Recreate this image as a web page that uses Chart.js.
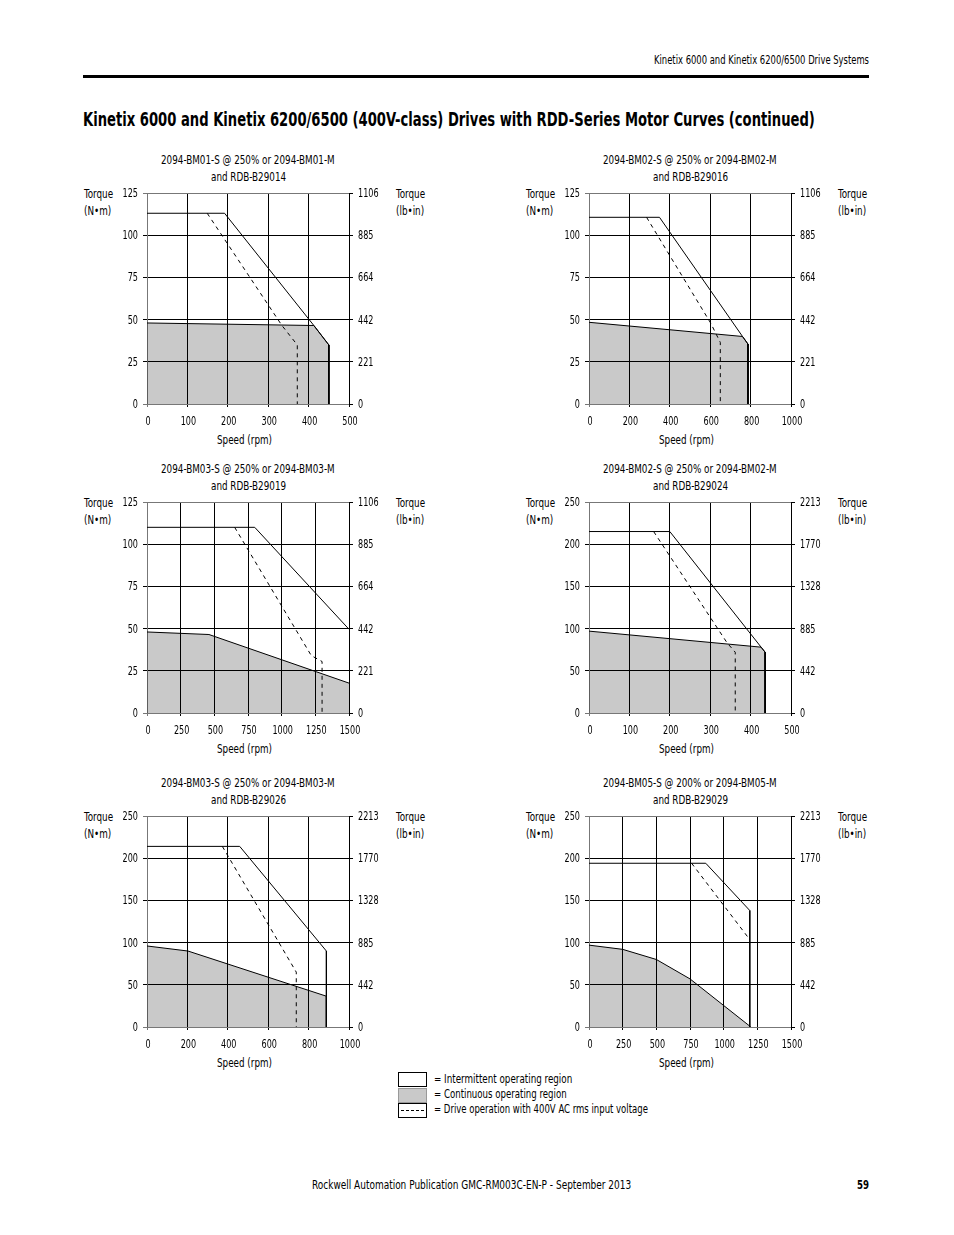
<!DOCTYPE html>
<html>
<head>
<meta charset="utf-8">
<title>Kinetix 6000 and Kinetix 6200/6500 (400V-class) Drives with RDD-Series Motor Curves</title>
<script src="https://cdn.jsdelivr.net/npm/chart.js@4.4.0/dist/chart.umd.min.js"></script>
<style>
  html, body { margin: 0; padding: 0; background: #fff; }
  body {
    width: 954px; height: 1235px; position: relative; overflow: hidden;
    font-family: "Liberation Sans Narrow", "DejaVu Sans Condensed", sans-serif;
    color: #000;
  }
  .txt { position: absolute; white-space: nowrap; line-height: 1; }
  canvas { position: absolute; }
  .box { position: absolute; left: 398px; width: 27px; height: 13px; border: 1px solid #000; background: #fff; }
</style>
</head>
<body>
<div id="rule" style="position:absolute;left:83px;top:75px;width:786px;height:3px;background:#000"></div>
<div class="box" style="top:1072px"></div>
<div class="box" style="top:1088px;background:#c9c9c9;border-color:#999"></div>
<div class="box" style="top:1103px"><div style="position:absolute;left:2px;right:2px;top:6px;border-top:1px dashed #000"></div></div>

<script>
// Font used for all the texts
const FONT = '"Liberation Sans Narrow", "DejaVu Sans Condensed", sans-serif';
const SQUEEZE = 0.85;       // horizontal squeeze for the small html texts
const TICK_SQUEEZE = 0.78;  // horizontal squeeze for the tick labels

// Chart titles (two lines)
const titleLine1 = [
  '2094-BM01-S @ 250% or 2094-BM01-M',
  '2094-BM02-S @ 250% or 2094-BM02-M',
  '2094-BM03-S @ 250% or 2094-BM03-M',
  '2094-BM02-S @ 250% or 2094-BM02-M',
  '2094-BM03-S @ 250% or 2094-BM03-M',
  '2094-BM05-S @ 200% or 2094-BM05-M'
];
const motorNames = ['RDB-B29014', 'RDB-B29016', 'RDB-B29019', 'RDB-B29024', 'RDB-B29026', 'RDB-B29029'];

// Tick labels
const speedTicks500 = ['0', '100', '200', '300', '400', '500'];
const speedTicks1000 = ['0', '200', '400', '600', '800', '1000'];
const speedTicks1500 = ['0', '250', '500', '750', '1000', '1250', '1500'];
const torqueTicks125 = ['0', '25', '50', '75', '100', '125'];
const torqueTicks250 = ['0', '50', '100', '150', '200', '250'];
const lbinTicks125 = ['0', '221', '442', '664', '885', '1106'];
const lbinTicks250 = ['0', '442', '885', '1328', '1770', '2213'];

const speedTicks = [speedTicks500, speedTicks1000, speedTicks1500, speedTicks500, speedTicks1000, speedTicks1500];
const torqueTicks = [torqueTicks125, torqueTicks125, torqueTicks125, torqueTicks250, torqueTicks250, torqueTicks250];
const lbinTicks = [lbinTicks125, lbinTicks125, lbinTicks125, lbinTicks250, lbinTicks250, lbinTicks250];

// Curves: [speed rpm, torque N-m]
// continuous = shaded region, peak = intermittent limit, v400 = dashed 400V curve
const contB29014 = [[0, 48], [413, 46.5], [450, 35], [450, 0]];
const peakB29014 = [[0, 113], [192, 113], [413, 46.5], [450, 35], [450, 0]];
const v400B29014 = [[149, 113], [334, 46.5], [372, 35], [372, 0]];

const contB29016 = [[0, 48.4], [760, 40], [787, 35.5], [787, 0]];
const peakB29016 = [[0, 110.6], [349, 110.6], [760, 40], [787, 35.5], [787, 0]];
const v400B29016 = [[285, 110.6], [602, 48], [650, 36.5], [650, 0]];

const contB29019 = [[0, 48], [460, 46.5], [1500, 17.7]];
const peakB29019 = [[0, 110], [800, 110], [1500, 49.6]];
const v400B29019 = [[651, 110], [1220, 34], [1300, 30.5], [1300, 0]];

const contB29024 = [[0, 97], [426, 78], [436, 72], [436, 0]];
const peakB29024 = [[0, 215], [200, 215], [426, 78], [436, 72], [436, 0]];
const v400B29024 = [[160, 215], [342, 83], [362, 72], [362, 0]];

const contB29026 = [[0, 96], [203, 90], [888, 36.5], [888, 0]];
const peakB29026 = [[0, 214], [459, 214], [888, 90], [888, 0]];
const v400B29026 = [[373, 214], [739, 65], [739, 0]];

const contB29029 = [[0, 97], [250, 92], [500, 80], [750, 57], [1194, 1], [1194, 0]];
const peakB29029 = [[0, 194], [867, 194], [1194, 138], [1194, 0]];
const v400B29029 = [[762, 194], [1187, 105]];

const continuous = [contB29014, contB29016, contB29019, contB29024, contB29026, contB29029];
const peak = [peakB29014, peakB29016, peakB29019, peakB29024, peakB29026, peakB29029];
const v400 = [v400B29014, v400B29016, v400B29019, v400B29024, v400B29026, v400B29029];

// Page layout of the plot areas
const plotLeft = [147, 589];
const plotTop = [193, 502, 816];
const plotW = 202;
const plotH = 211;
const AX = 45;   // width of each y axis
const PT = 12;   // space above the plot
const XH = 30;   // height of the x axis

// Places a text; anchor = left | center | right, y = vertical middle
function place(text, x, y, size, anchor, opts) {
  opts = opts || {};
  const el = document.createElement('div');
  el.className = 'txt';
  el.textContent = text;
  el.style.fontSize = size + 'px';
  if (opts.bold) el.style.fontWeight = 'bold';
  document.body.appendChild(el);
  const w = el.offsetWidth;
  let scale = opts.squeeze || 1;
  if (opts.width) scale = opts.width / w;
  const shown = w * scale;
  let left = x;
  if (anchor === 'center') left = x - shown / 2;
  if (anchor === 'right') left = x - shown;
  el.style.left = left + 'px';
  el.style.top = (y - size * 0.5) + 'px';
  el.style.transformOrigin = '0 0';
  if (scale !== 1) el.style.transform = 'scaleX(' + scale + ')';
  return el;
}

// Page texts
place('Kinetix 6000 and Kinetix 6200/6500 Drive Systems', 869, 60, 12, 'right', { width: 215 });
place('Kinetix 6000 and Kinetix 6200/6500 (400V-class) Drives with RDD-Series Motor Curves (continued)', 83, 119, 20, 'left', { bold: true, width: 732 });
place('Rockwell Automation Publication GMC-RM003C-EN-P - September 2013', 312, 1185, 12, 'left', { width: 319 });
place('59', 869, 1185, 12, 'right', { bold: true, width: 12 });

// Legend texts
place('= Intermittent operating region', 434, 1080, 11.5, 'left', { width: 138 });
place('= Continuous operating region', 434, 1095, 11.5, 'left', { width: 133 });
place('= Drive operation with 400V AC rms input voltage', 434, 1110, 11.5, 'left', { width: 214 });

function toXY(pts) {
  return pts.map(p => ({ x: p[0], y: p[1] }));
}

// Draws a label squeezed horizontally
function squeezedText(ctx, text, x, y, align) {
  const w = ctx.measureText(text).width * TICK_SQUEEZE;
  let x0 = x;
  if (align === 'center') x0 = x - w / 2;
  if (align === 'right') x0 = x - w;
  ctx.save();
  ctx.translate(x0, y);
  ctx.scale(TICK_SQUEEZE, 1);
  ctx.fillText(text, 0, 0);
  ctx.restore();
}

// Plugin that writes the tick labels of the three axes in a narrow face
const narrowTicks = {
  id: 'narrowTicks',
  afterDraw(chart, args, opts) {
    const ctx = chart.ctx;
    const area = chart.chartArea;
    const sx = chart.scales.x;
    const sy = chart.scales.y;
    ctx.save();
    ctx.fillStyle = '#000';
    ctx.font = '11.5px ' + FONT;
    ctx.textAlign = 'left';
    ctx.textBaseline = 'middle';
    opts.speed.forEach(lab => {
      squeezedText(ctx, lab, sx.getPixelForValue(Number(lab)) + 1, area.bottom + 18, 'center');
    });
    opts.torque.forEach(lab => {
      squeezedText(ctx, lab, area.left - 9, sy.getPixelForValue(Number(lab)) + 1, 'right');
    });
    opts.lbin.forEach((lab, k) => {
      squeezedText(ctx, lab, area.right + 9, sy.getPixelForValue(Number(opts.torque[k])) + 1, 'left');
    });
    ctx.restore();
  }
};

// Draws one of the six torque/speed charts
function makeChart(i) {
  const col = i % 2;
  const row = Math.floor(i / 2);
  const left = plotLeft[col];
  const top = plotTop[row];
  const cx = left + plotW / 2;
  const xTicks = speedTicks[i];
  const yTicks = torqueTicks[i];
  const xMax = Number(xTicks[xTicks.length - 1]);
  const yMax = Number(yTicks[yTicks.length - 1]);
  const small = { squeeze: SQUEEZE };

  // Texts round the plot
  place(titleLine1[i], cx, top - 32, 11.5, 'center', small);
  place('and ' + motorNames[i], cx, top - 15, 11.5, 'center', small);
  place('Torque', left - 49, top + 2, 11.5, 'center', small);
  place('(N\u2022m)', left - 49, top + 19, 11.5, 'center', small);
  place('Torque', left + plotW + 61, top + 2, 11.5, 'center', small);
  place('(lb\u2022in)', left + plotW + 61, top + 19, 11.5, 'center', small);
  place('Speed (rpm)', cx - 3, top + plotH + 37, 11.5, 'center', small);

  const canvas = document.createElement('canvas');
  canvas.width = plotW + 2 * AX;
  canvas.height = PT + plotH + XH;
  canvas.style.left = (left - AX) + 'px';
  canvas.style.top = (top - PT) + 'px';
  document.body.appendChild(canvas);

  new Chart(canvas.getContext('2d'), {
    type: 'line',
    plugins: [narrowTicks],
    data: {
      datasets: [
        {
          data: toXY(v400[i]),
          borderColor: '#000',
          borderWidth: 1,
          borderDash: [4, 4],
          pointRadius: 0,
          fill: false,
          order: 1
        },
        {
          data: toXY(peak[i]),
          borderColor: '#000',
          borderWidth: 1,
          pointRadius: 0,
          fill: false,
          order: 2
        },
        {
          data: toXY(continuous[i]),
          borderColor: '#000',
          borderWidth: 1,
          backgroundColor: 'rgba(0,0,0,0.21)',
          pointRadius: 0,
          fill: 'origin',
          order: 3
        }
      ]
    },
    options: {
      responsive: false,
      animation: false,
      events: [],
      layout: { padding: { top: PT, left: 0, right: 0, bottom: 0 } },
      plugins: {
        legend: { display: false },
        tooltip: { enabled: false },
        narrowTicks: { speed: xTicks, torque: yTicks, lbin: lbinTicks[i] }
      },
      scales: {
        x: {
          type: 'linear',
          min: 0,
          max: xMax,
          afterBuildTicks: s => { s.ticks = xTicks.map(t => ({ value: Number(t) })); },
          ticks: { display: false },
          grid: { color: c => (c.tick && c.tick.value === 0 ? '#777' : '#000'), tickLength: 3 },
          border: { color: '#777' },
          afterFit: s => { s.height = XH; }
        },
        y: {
          type: 'linear',
          position: 'left',
          min: 0,
          max: yMax,
          afterBuildTicks: s => { s.ticks = yTicks.map(t => ({ value: Number(t) })); },
          ticks: { display: false },
          grid: { color: c => (c.tick && (c.tick.value === yMax || c.tick.value === 0) ? '#777' : '#000'), tickLength: 4 },
          border: { color: '#777' },
          afterFit: s => { s.width = AX; }
        },
        y2: {
          type: 'linear',
          position: 'right',
          min: 0,
          max: yMax,
          afterBuildTicks: s => { s.ticks = yTicks.map(t => ({ value: Number(t) })); },
          ticks: { display: false },
          grid: { drawOnChartArea: false, color: '#000', tickLength: 4 },
          border: { color: '#000' },
          afterFit: s => { s.width = AX; }
        }
      }
    }
  });
}

for (let i = 0; i < 6; i++) makeChart(i);
</script>
</body>
</html>
